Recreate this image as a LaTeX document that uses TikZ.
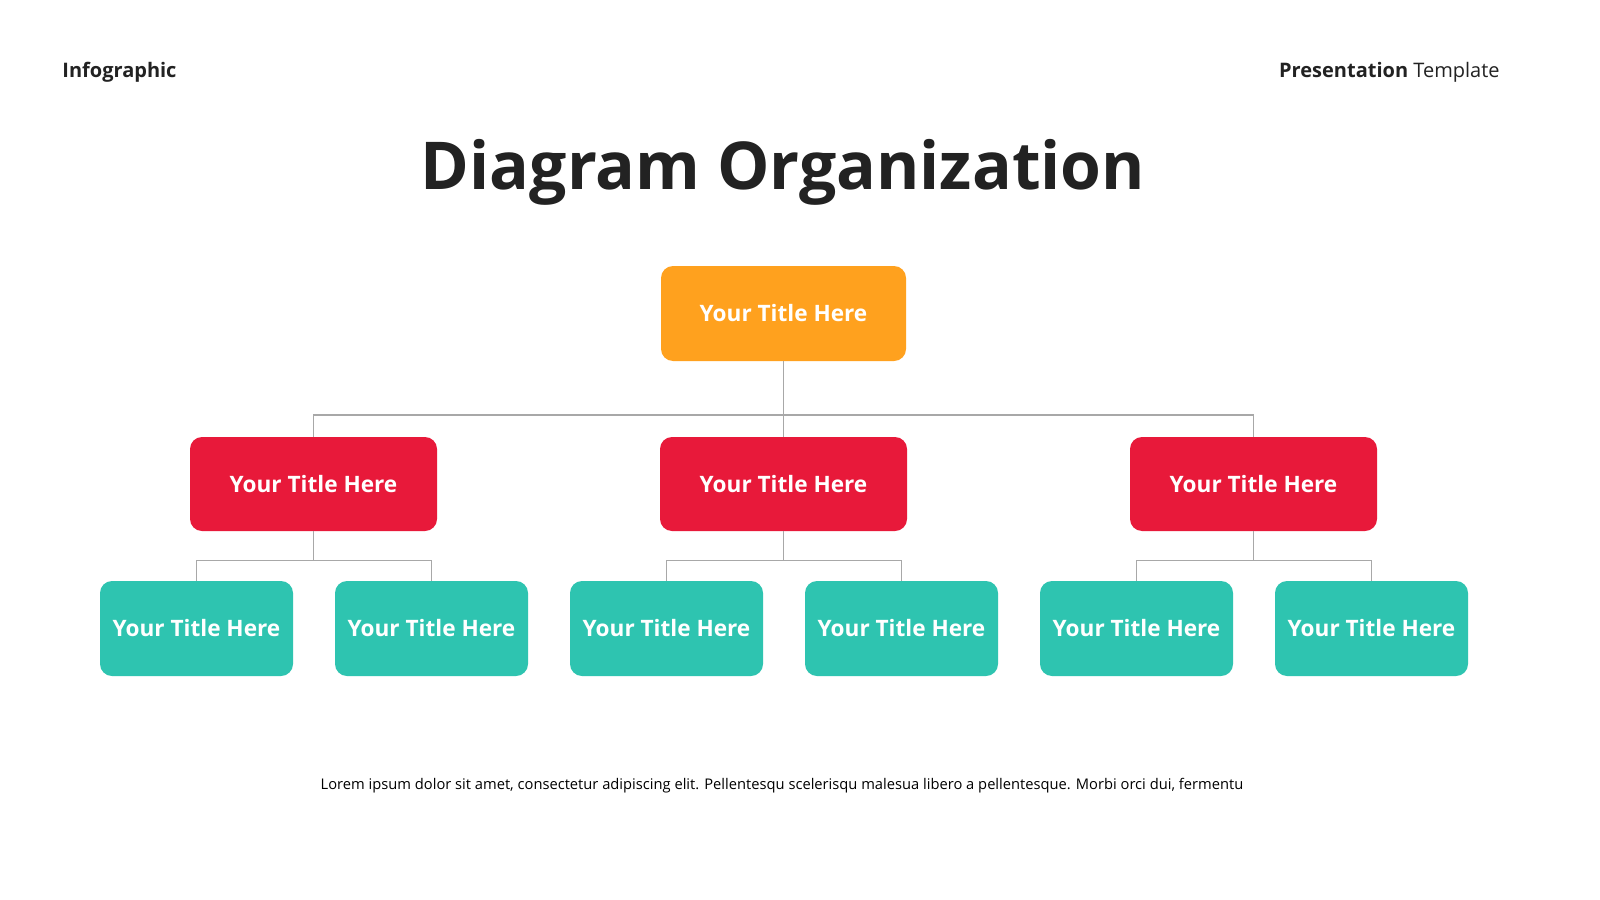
\documentclass[tikz,border=0pt]{standalone}
\usepackage{fontspec}
\setmainfont{Open Sans}
\usetikzlibrary{calc}

\definecolor{darktext}{HTML}{222222}
\definecolor{topbox}{HTML}{FFA11E}
\definecolor{midbox}{HTML}{E8193A}
\definecolor{leafbox}{HTML}{2EC4B0}
\definecolor{linkgray}{HTML}{A8A8A8}

\tikzset{
  titlebox/.style={rounded corners=6pt,text=white,font=\fontsize{11.3}{13}\selectfont\bfseries,
    minimum height=47.5pt,inner sep=0pt},
  headbox/.style={titlebox,fill=topbox,minimum width=122.5pt},
  deptbox/.style={titlebox,fill=midbox,minimum width=123.5pt,minimum height=47pt},
  teambox/.style={titlebox,fill=leafbox,minimum width=96.5pt},
  link/.style={draw=linkgray,line width=0.6pt}
}

\begin{document}
\begin{tikzpicture}[x=0.5pt,y=-0.5pt]
  \useasboundingbox[fill=white] (0,0) rectangle (1600,899);

  % header
  \node[anchor=base west,inner sep=0pt,text=darktext,font=\fontsize{10}{12}\selectfont\bfseries] (infolabel) at (62,78) {Infographic};
  \node[anchor=base east,inner sep=0pt,text=darktext,font=\fontsize{10}{12}\selectfont] (templabel) at (1500,78) {\textbf{Presentation} Template};
  \node[anchor=base,inner sep=0pt,text=darktext,font=\fontsize{33}{38}\selectfont\bfseries] (maintitle) at (783,189) {Diagram Organization};

  % boxes
  \node[headbox] (head) at (783.5,313.5) {Your Title Here};
  \foreach \i/\x in {1/313.5,2/783.5,3/1253.5}
    \node[deptbox] (dept\i) at (\x,484) {Your Title Here};
  \foreach \j/\x in {1/196.5,2/431.5,3/666.5,4/901.5,5/1136.5,6/1371.5}
    \node[teambox] (team\j) at (\x,628.5) {Your Title Here};

  % connectors
  \coordinate (hub) at (783.5,415);
  \draw[link] (head.south) -- (hub);
  \draw[link] (dept1.north) |- (hub) -| (dept3.north);
  \draw[link] (hub) -- (dept2.north);
  \foreach \i/\a/\b in {1/1/2,2/3/4,3/5/6}{
    \coordinate (fork\i) at ($(dept\i.south)+(0,29)$);
    \draw[link] (dept\i.south) -- (fork\i);
    \draw[link] (team\a.north) |- (fork\i) -| (team\b.north);
  }

  % footer
  \node[text=black,font=\fontsize{7.35}{9}\selectfont] (footnote) at (782,786)
    {Lorem ipsum dolor sit amet, consectetur adipiscing elit. Pellentesqu scelerisqu malesua libero a pellentesque. Morbi orci dui, fermentu};

\end{tikzpicture}
\end{document}
